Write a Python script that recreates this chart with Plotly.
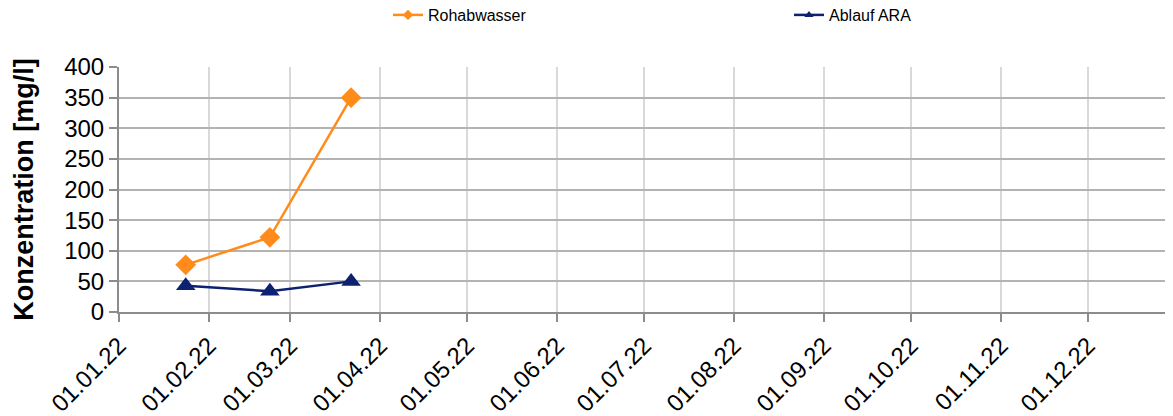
import plotly.graph_objects as go

dates = ["2022-01-24", "2022-02-22", "2022-03-22"]
rohabwasser = [77, 122, 350]
ablauf_ara = [43, 34, 50]
series_names = ["Rohabwasser", "Ablauf ARA"]
y_title = "Konzentration [mg/l]"

orange = "#ff8c1a"
navy = "#0c2270"

fig = go.Figure()
fig.add_trace(go.Scatter(
    x=dates, y=rohabwasser, name=series_names[0], mode="lines+markers",
    line=dict(color=orange, width=2.5), showlegend=False,
    marker=dict(symbol="diamond", size=16, color=orange)))
fig.add_trace(go.Scatter(
    x=dates, y=ablauf_ara, name=series_names[1], mode="lines+markers",
    line=dict(color=navy, width=2.5), showlegend=False,
    marker=dict(symbol="triangle-up", size=17, color=navy)))
# legend entries (small markers like the reference)
fig.add_trace(go.Scatter(
    x=[None], y=[None], name=series_names[0], mode="lines+markers",
    line=dict(color=orange, width=2.5),
    marker=dict(symbol="diamond", size=8, color=orange)))
fig.add_trace(go.Scatter(
    x=[None], y=[None], name=series_names[1], mode="lines+markers",
    line=dict(color=navy, width=2.5),
    marker=dict(symbol="triangle-up", size=8, color=navy)))

font = "Liberation Sans, Arial, sans-serif"
W, H = 1165, 408
L, R, T, B = 111, 0, 59, 104
plot_w = W - L - R
plot_h = H - T - B
fig.update_layout(
    width=W, height=H,
    margin=dict(l=L, r=R, t=T, b=B, autoexpand=False),
    paper_bgcolor="white", plot_bgcolor="white",
    font=dict(family=font, color="black"),
    legend=dict(orientation="h", x=(380 - L) / plot_w, y=1 + (T - 7) / plot_h,
                xanchor="left", yanchor="middle", font=dict(size=16),
                entrywidth=356, bgcolor="rgba(0,0,0,0)"),
    xaxis=dict(
        type="date", range=["2022-01-01", "2022-12-30 07:00"], automargin=False,
        tick0="2022-01-01", dtick="M1", tickformat="%d.%m.%y", tickangle=-45,
        tickfont=dict(size=24), showgrid=True, gridcolor="#d9d9d9", gridwidth=1.5,
        showline=True, linecolor="#8c8c8c", linewidth=2,
        ticks="outside", ticklen=8, tickcolor="#8c8c8c", tickwidth=2,
        zeroline=False),
    yaxis=dict(
        range=[0, 400], dtick=50, tickfont=dict(size=24), automargin=False,
        showgrid=True, gridcolor="#b3b3b3", gridwidth=1.5,
        showline=True, linecolor="#8c8c8c", linewidth=2,
        ticks="outside", ticklen=8, tickcolor="#8c8c8c", tickwidth=2,
        zeroline=False,
        title=dict(text="<b>" + y_title + "</b>", font=dict(size=27), standoff=23)),
)

fig.write_html("out.html")
